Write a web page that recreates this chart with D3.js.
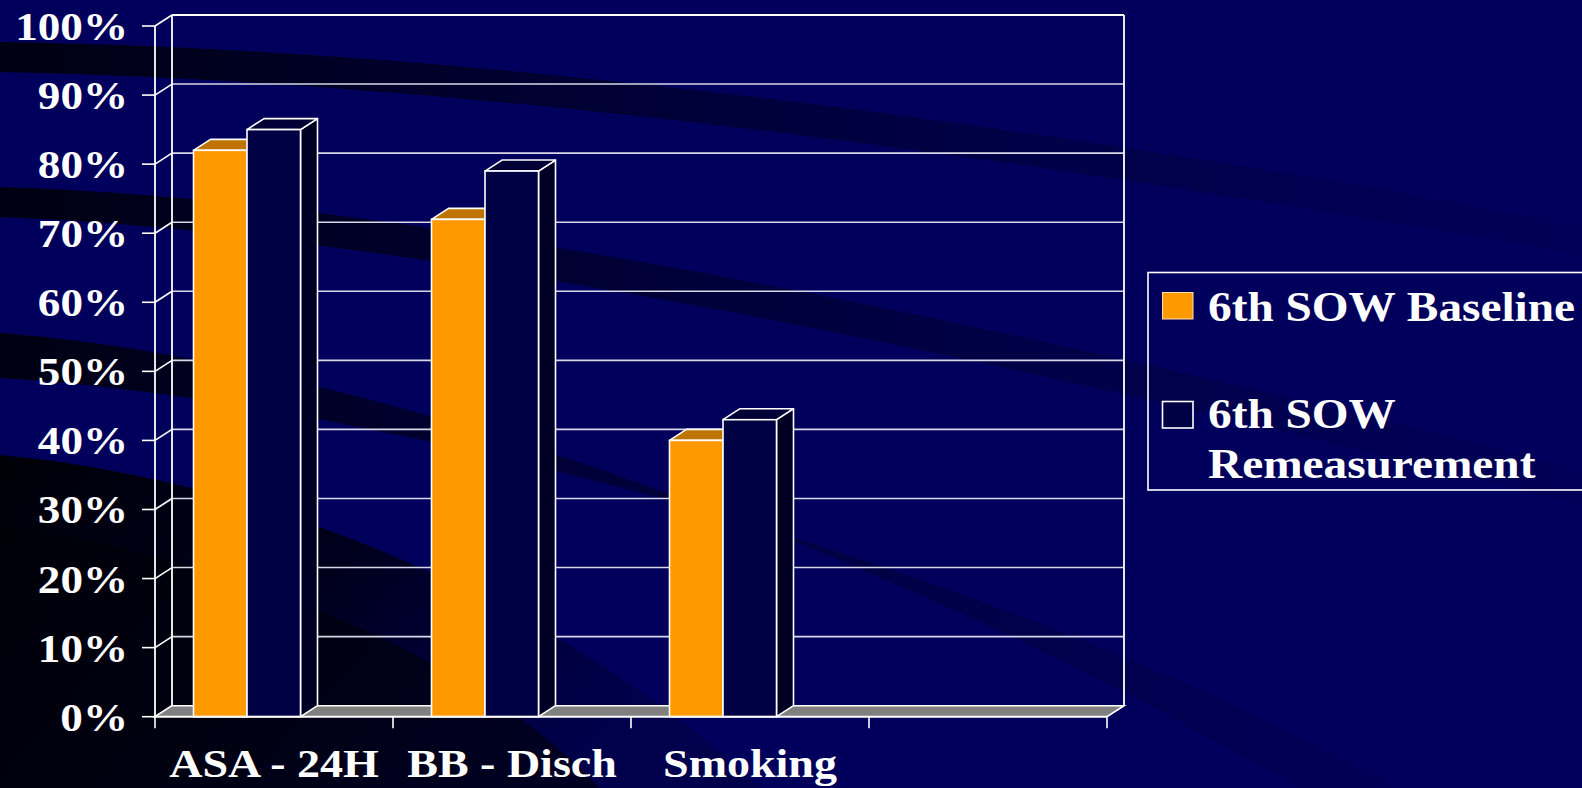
<!DOCTYPE html>
<html>
<head>
<meta charset="utf-8">
<script src="https://cdn.jsdelivr.net/npm/d3@7"></script>
<style>
  html, body { margin: 0; padding: 0; background: #00005C; }
  svg { display: block; }
</style>
</head>
<body>
<svg id="chart" width="1582" height="788"></svg>
<script>
// ---------- data ----------
const categories = ["ASA - 24H", "BB - Disch", "Smoking", ""];
const seriesNames = ["6th SOW Baseline", "6th SOW Remeasurement"];
const baselineValues = [0.82, 0.72, 0.40, null];
const remeasurementValues = [0.85, 0.79, 0.43, null];
const yTickValues = [0, 0.1, 0.2, 0.3, 0.4, 0.5, 0.6, 0.7, 0.8, 0.9, 1.0];
const yTickLabels = ["0%", "10%", "20%", "30%", "40%", "50%", "60%", "70%", "80%", "90%", "100%"];

// ---------- layout ----------
const W = 1582, H = 788;
const depthX = 17, depthY = -11;
const FONT = "'Liberation Serif', 'Times New Roman', Times, serif";
const svg = d3.select("#chart");

const x = d3.scaleBand().domain(d3.range(categories.length)).range([155, 1107]).padding(0);
const inner = d3.scaleBand().domain([0, 1]).range([38.5, 145.5]).padding(0);
const y = d3.scaleLinear().domain([0, 1]).range([716.7, 26]);
const x0 = x.range()[0], x1 = x.range()[1];

// ---------- background ----------
const defs = svg.append("defs");
const fade = defs.append("linearGradient").attr("id", "fade").attr("x1", "0").attr("x2", "1").attr("y1", "0").attr("y2", "0");
fade.append("stop").attr("offset", "0").attr("stop-color", "#00000e").attr("stop-opacity", 0.95);
fade.append("stop").attr("offset", "0.45").attr("stop-color", "#000018").attr("stop-opacity", 0.5);
fade.append("stop").attr("offset", "1").attr("stop-color", "#00002a").attr("stop-opacity", 0.08);
const fadeD = defs.append("linearGradient").attr("id", "fadeD").attr("x1", "0").attr("x2", "1").attr("y1", "0").attr("y2", "0.4");
fadeD.append("stop").attr("offset", "0").attr("stop-color", "#000008").attr("stop-opacity", 1);
fadeD.append("stop").attr("offset", "0.5").attr("stop-color", "#000012").attr("stop-opacity", 0.85);
fadeD.append("stop").attr("offset", "1").attr("stop-color", "#00002a").attr("stop-opacity", 0.3);

svg.append("rect").attr("width", W).attr("height", H).attr("fill", "#00005C");
const bands = [
  "M0,42 C400,48 900,100 1582,225 L1582,255 C900,135 400,80 0,72 Z",
  "M0,187 C300,195 800,270 1582,470 L1582,505 C800,305 300,228 0,217 Z",
  "M0,333 C300,355 800,500 1300,788 L1400,788 C900,520 300,395 0,378 Z",
];
svg.append("g").selectAll("path").data(bands).join("path")
  .attr("d", d => d).attr("fill", "url(#fade)");
svg.append("path")
  .attr("d", "M0,455 C260,478 560,600 760,788 L0,788 Z")
  .attr("fill", "url(#fadeD)");
svg.append("path")
  .attr("d", "M0,525 C240,560 480,660 600,788 L0,788 Z")
  .attr("fill", "#000008").attr("opacity", 0.6);

// ---------- walls & grid ----------
const gridColor = "#D8D8E8";
const g = svg.append("g");
g.selectAll("line.grid").data(yTickValues).join("line")
  .attr("class", "grid")
  .attr("x1", x0 + depthX).attr("x2", x1 + depthX)
  .attr("y1", d => y(d) + depthY).attr("y2", d => y(d) + depthY)
  .attr("stroke", gridColor).attr("stroke-width", 1.6);
g.selectAll("line.diag").data(yTickValues).join("line")
  .attr("class", "diag")
  .attr("x1", x0).attr("x2", x0 + depthX)
  .attr("y1", d => y(d)).attr("y2", d => y(d) + depthY)
  .attr("stroke", "#ffffff").attr("stroke-width", 1.6);
[x0 + depthX, x1 + depthX].forEach(xx => {
  g.append("line").attr("x1", xx).attr("x2", xx)
    .attr("y1", y(0) + depthY).attr("y2", y(1) + depthY)
    .attr("stroke", "#ffffff").attr("stroke-width", 1.8);
});
g.append("line").attr("x1", x0 + depthX).attr("x2", x1 + depthX)
  .attr("y1", y(1) + depthY).attr("y2", y(1) + depthY)
  .attr("stroke", "#ffffff").attr("stroke-width", 2);
g.append("line").attr("x1", x0).attr("x2", x0).attr("y1", y(0)).attr("y2", y(1))
  .attr("stroke", "#ffffff").attr("stroke-width", 1.8);
g.append("path")
  .attr("d", `M${x0},${y(0)} L${x1},${y(0)} L${x1 + depthX},${y(0) + depthY} L${x0 + depthX},${y(0) + depthY} Z`)
  .attr("fill", "#808080").attr("stroke", "#ffffff").attr("stroke-width", 1.6);

// ---------- bars ----------
const series = [
  { name: seriesNames[0], values: baselineValues, front: "#FF9900", top: "#BF7300", side: "#A86400" },
  { name: seriesNames[1], values: remeasurementValues, front: "#000044", top: "#000036", side: "#000024" },
];
const barG = svg.append("g");
categories.forEach((c, ci) => {
  series.forEach((s, si) => {
    const v = s.values[ci];
    if (v == null) return;
    const bx = x(ci) + inner(si), bw = inner.bandwidth();
    const yt = y(v), yb = y(0);
    const bar = barG.append("g");
    bar.append("path")
      .attr("d", `M${bx + bw},${yb} L${bx + bw + depthX},${yb + depthY} L${bx + bw + depthX},${yt + depthY} L${bx + bw},${yt} Z`)
      .attr("fill", s.side).attr("stroke", "#ffffff").attr("stroke-width", 1.6).attr("stroke-linejoin", "round");
    bar.append("path")
      .attr("d", `M${bx},${yt} L${bx + depthX},${yt + depthY} L${bx + bw + depthX},${yt + depthY} L${bx + bw},${yt} Z`)
      .attr("fill", s.top).attr("stroke", "#ffffff").attr("stroke-width", 1.6).attr("stroke-linejoin", "round");
    bar.append("rect")
      .attr("x", bx).attr("y", yt).attr("width", bw).attr("height", yb - yt)
      .attr("fill", s.front).attr("stroke", "#ffffff").attr("stroke-width", 1.6);
  });
});

// ---------- axes ticks ----------
const axG = svg.append("g");
axG.selectAll("line.yt").data(yTickValues).join("line")
  .attr("x1", x0 - 13).attr("x2", x0).attr("y1", d => y(d)).attr("y2", d => y(d))
  .attr("stroke", "#ffffff").attr("stroke-width", 1.6);
const xTickPos = d3.range(categories.length + 1).map(i => i < categories.length ? x(i) : x1);
axG.selectAll("line.xt").data(xTickPos).join("line")
  .attr("x1", d => d).attr("x2", d => d).attr("y1", y(0)).attr("y2", y(0) + 11.5)
  .attr("stroke", "#ffffff").attr("stroke-width", 1.6);
axG.append("line").attr("x1", x0).attr("x2", x1).attr("y1", y(0)).attr("y2", y(0))
  .attr("stroke", "#ffffff").attr("stroke-width", 1.8);

// ---------- text helper ----------
function stretchedText(parent, tx, ty, str, size, sx, anchor) {
  const gg = parent.append("g").attr("transform", `translate(${tx},${ty}) scale(${sx},1)`);
  gg.append("text").attr("x", 0).attr("y", 0)
    .attr("text-anchor", anchor)
    .attr("font-family", FONT).attr("font-weight", "bold")
    .attr("font-size", size).attr("fill", "#ffffff")
    .text(str);
  return gg;
}

const labG = svg.append("g");
yTickValues.forEach((v, i) => {
  stretchedText(labG, 128, y(v) + 14, yTickLabels[i], 41, 1.1, "end");
});
categories.forEach((c, i) => {
  if (!c) return;
  stretchedText(labG, x(i) + x.bandwidth() / 2, 776.5, c, 39, 1.18, "middle");
});

// ---------- legend ----------
const leg = svg.append("g");
leg.append("rect").attr("x", 1148).attr("y", 272.5).attr("width", 480).attr("height", 217.5)
  .attr("fill", "none").attr("stroke", "#ffffff").attr("stroke-width", 1.6);
leg.append("rect").attr("x", 1162.5).attr("y", 292.5).attr("width", 30.5).attr("height", 26.5)
  .attr("fill", series[0].front).attr("stroke", "#ffe0b0").attr("stroke-width", 1);
leg.append("rect").attr("x", 1162.5).attr("y", 401.5).attr("width", 30.5).attr("height", 26.5)
  .attr("fill", series[1].front).attr("stroke", "#ffffff").attr("stroke-width", 1.6);
stretchedText(leg, 1208, 321, seriesNames[0], 43, 1.1, "start");
stretchedText(leg, 1208, 428, "6th SOW", 43, 1.1, "start");
stretchedText(leg, 1208, 478, "Remeasurement", 43, 1.1, "start");
</script>
</body>
</html>
